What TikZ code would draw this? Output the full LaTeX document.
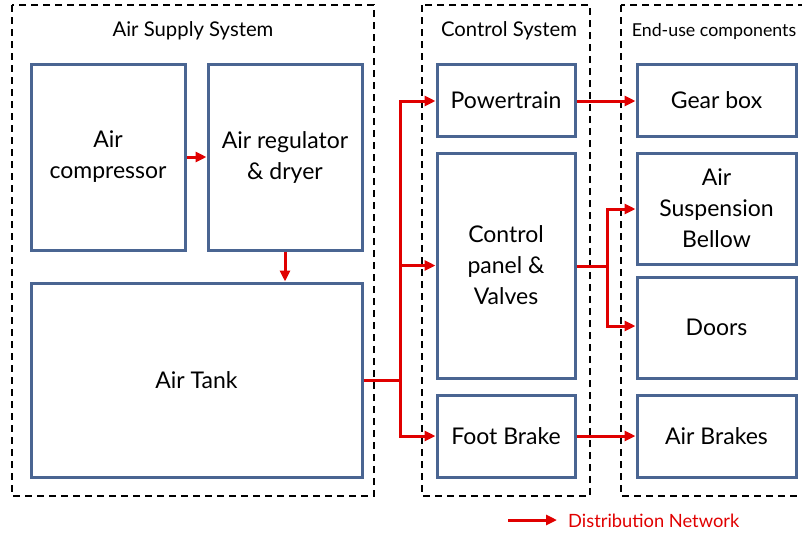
\documentclass[tikz,border=0pt]{standalone}
\usepackage{fontspec}
\setmainfont{Lato}
\usetikzlibrary{arrows.meta}
\definecolor{boxblue}{HTML}{4A6592}
\definecolor{netred}{HTML}{E00000}
\tikzset{
  comp/.style={draw=boxblue, line width=3pt, align=center, font=\fontsize{23}{31}\selectfont, inner sep=0pt},
  group/.style={draw=black, line width=2pt, dash pattern=on 7pt off 5pt},
  title/.style={font=\fontsize{20.3}{24}\selectfont, inner sep=0pt},
  net/.style={draw=netred, line width=3pt, -{Triangle[length=11pt,width=10pt]}},
  netl/.style={draw=netred, line width=3pt},
}
\begin{document}
\begin{tikzpicture}[x=1pt,y=-1pt]
\useasboundingbox (0,0) rectangle (802,533);
% groups
\draw[group] (12,5) rectangle (374,496);
\draw[group] (422,5) rectangle (590,496);
\begin{scope}
\clip (0,0) rectangle (802,533);
\draw[group] (621,5) rectangle (810,496);
\end{scope}
\node[title] (t1) at (193,31) {Air Supply System};
\node[title] (t2) at (509,31) {Control System};
\node[title, font=\fontsize{17.8}{22}\selectfont] (t3) at (714,31) {End-use components};
% components
\node[comp, minimum width=154pt, minimum height=186pt] (comp) at (108,157) {\rule{0pt}{6pt}Air\\compressor};
\node[comp, minimum width=154pt, minimum height=186pt] (reg) at (285,157) {\rule{0pt}{6pt}Air regulator\\\& dryer};
\node[comp, minimum width=331pt, minimum height=194pt] (tank) at (196.5,380) {Air Tank};
\node[comp, minimum width=138pt, minimum height=72pt] (pt) at (506,100) {Powertrain};
\node[comp, minimum width=138pt, minimum height=225pt] (cp) at (506,265.5) {Control\\panel \&\\Valves};
\node[comp, minimum width=138pt, minimum height=82pt] (fb) at (506,436) {Foot Brake};
\node[comp, minimum width=159pt, minimum height=72pt] (gb) at (716.5,100) {Gear box};
\node[comp, minimum width=159pt, minimum height=111pt] (as) at (716.5,208.5) {Air\\Suspension\\Bellow};
\node[comp, minimum width=159pt, minimum height=101pt] (dr) at (716.5,327.5) {Doors};
\node[comp, minimum width=159pt, minimum height=82pt] (ab) at (716.5,436) {Air Brakes};
% connectors
\draw[net] (comp.east) -- (reg.west);
\draw[net] (reg.south) -- (reg.south |- tank.north);
\coordinate (b1) at (400,380);
\coordinate (b1t) at (400,101);
\coordinate (b1b) at (400,436);
\draw[netl] (tank.east |- b1) -- (b1);
\draw[net] (b1) -- (b1t) -- (b1t -| pt.west);
\draw[net] (b1) -- (b1b) -- (b1b -| fb.west);
\draw[net] (b1 |- cp.west) -- (cp.west);
\draw[net] (pt.east |- b1t) -- (b1t -| gb.west);
\draw[net] (fb.east |- b1b) -- (b1b -| ab.west);
\coordinate (b2) at (607,266);
\coordinate (b2t) at (607,209);
\coordinate (b2b) at (607,326);
\draw[netl] (cp.east |- b2) -- (b2);
\draw[net] (b2) -- (b2t) -- (b2t -| as.west);
\draw[net] (b2) -- (b2b) -- (b2b -| dr.west);
% legend
\coordinate (l1) at (508,520);
\node[anchor=west, text=netred, font=\fontsize{18.3}{22}\selectfont, inner sep=0pt] (lt) at (568,521) {Distribution Network};
\draw[net] (l1) -- (557,520);
\end{tikzpicture}
\end{document}
